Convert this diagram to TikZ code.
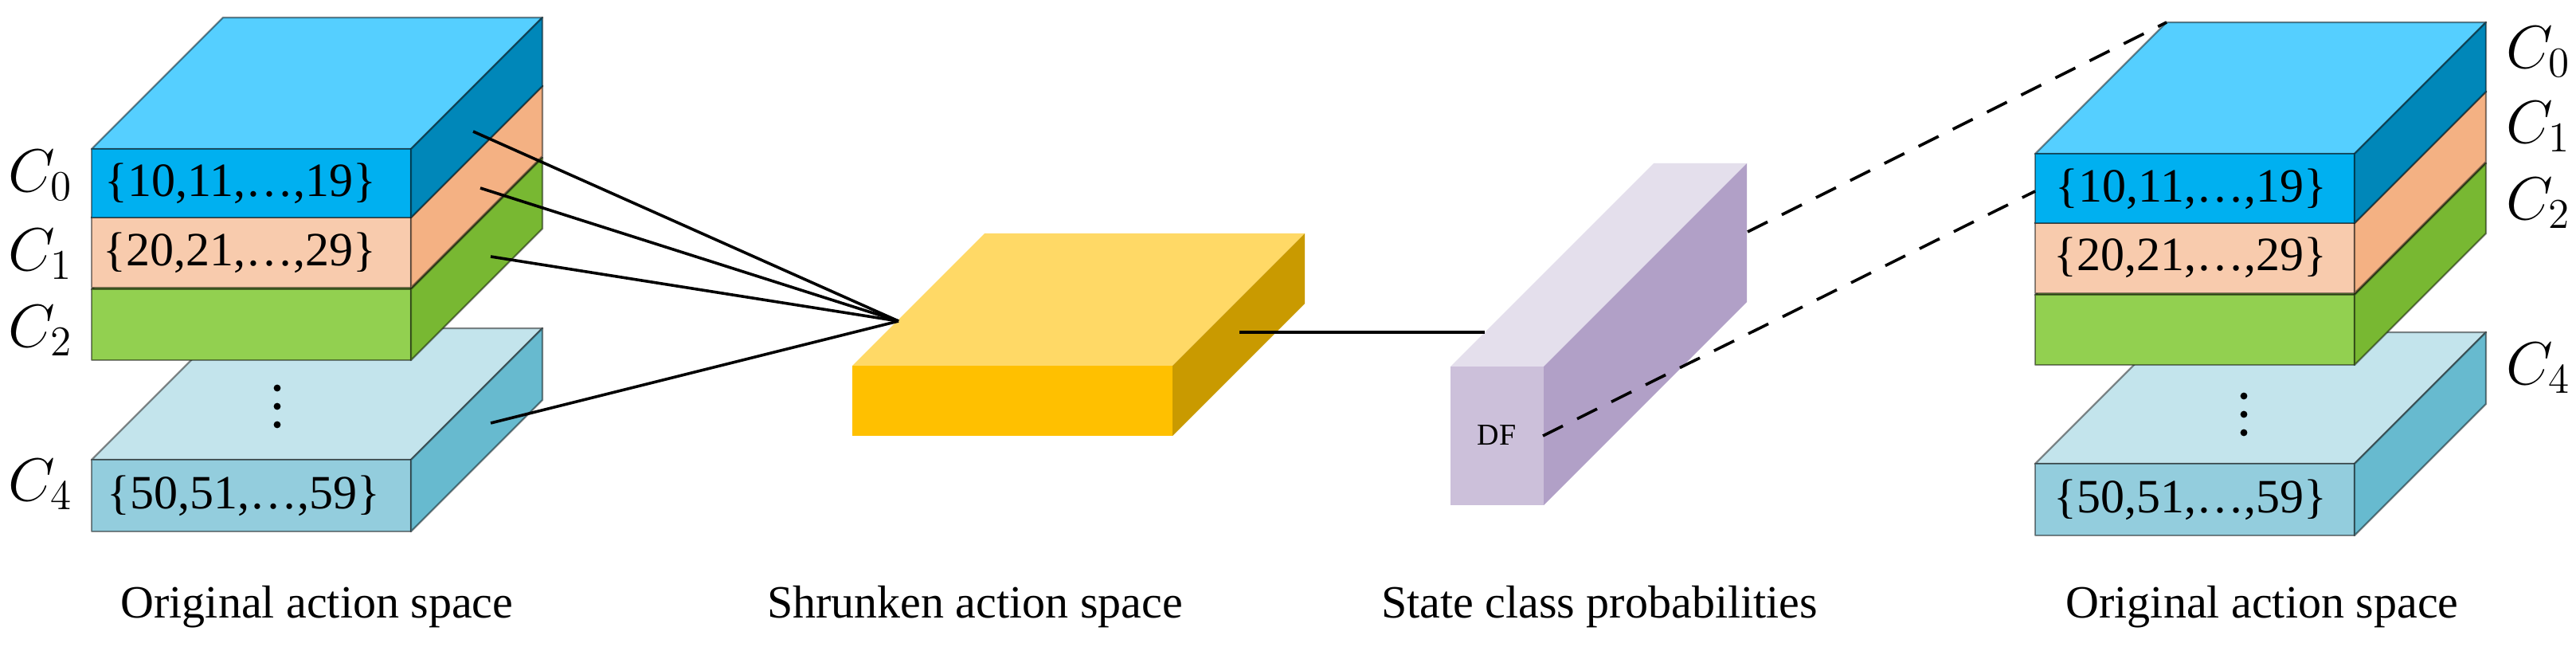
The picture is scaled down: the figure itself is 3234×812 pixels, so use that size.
\documentclass[tikz,border=0pt]{standalone}
\usepackage{fix-cm}
\usepackage{fontspec}
\setmainfont{Liberation Serif}
\definecolor{bluetop}{HTML}{55CFFF}
\definecolor{bluefront}{HTML}{00B0F0}
\definecolor{blueside}{HTML}{0087B9}
\definecolor{orfront}{HTML}{F8CBAD}
\definecolor{orside}{HTML}{F4B183}
\definecolor{grtop}{HTML}{92D050}
\definecolor{grfront}{HTML}{92D050}
\definecolor{grside}{HTML}{78B832}
\definecolor{lbtop}{HTML}{C3E4EC}
\definecolor{lbfront}{HTML}{93CDDD}
\definecolor{lbside}{HTML}{67BACF}
\definecolor{yetop}{HTML}{FFD966}
\definecolor{yefront}{HTML}{FFC000}
\definecolor{yeside}{HTML}{C99A00}
\definecolor{putop}{HTML}{E4DFEC}
\definecolor{pufront}{HTML}{CCC0DA}
\definecolor{puside}{HTML}{B1A0C7}
% #1 options, #2 x0, #3 x1, #4 top, #5 bottom, #6 depth, #7 top colour, #8 front colour, #9 side colour
\newcommand{\drawslab}[9][]{%
  \path[#1,fill=#7] (#2,#4) -- ({#2+#6},{#4-#6}) -- ({#3+#6},{#4-#6}) -- (#3,#4) -- cycle;
  \path[#1,fill=#8] (#2,#4) rectangle (#3,#5);
  \path[#1,fill=#9] (#3,#4) -- ({#3+#6},{#4-#6}) -- ({#3+#6},{#5-#6}) -- (#3,#5) -- cycle;
}
\tikzset{
  edged/.style={draw=black,draw opacity=0.45,line width=0.6pt,line join=round},
  plain/.style={},
  settext/.style={inner sep=0pt,font=\fontsize{15}{18}\selectfont},
  clabel/.style={inner sep=0pt,font=\fontsize{19}{22}\selectfont},
  caption/.style={inner sep=0pt,anchor=base,font=\fontsize{14.5}{17}\selectfont},
  link/.style={line width=0.9pt,black},
  dlink/.style={line width=0.9pt,black,dash pattern=on 7pt off 5pt},
}
\begin{document}
\begin{tikzpicture}[x=0.25pt,y=-0.25pt]
\useasboundingbox (0,0) rectangle (3234,812);
\fill[white] (0,0) rectangle (3234,812);

% ---------- left stack ----------
\drawslab[edged]{115}{516}{577}{667}{165}{lbtop}{lbfront}{lbside}
\drawslab[edged]{115}{516}{363}{452}{165}{grtop}{grfront}{grside}
\drawslab[edged]{115}{516}{273}{361}{165}{orfront}{orfront}{orside}
\drawslab[edged]{115}{516}{187}{273}{165}{bluetop}{bluefront}{blueside}
\foreach \yy in {487,510,533} \fill (348,\yy) circle[radius=1.1pt];

\node[settext] (ls0) at (302,230) {\{10,11,\ldots,19\}};
\node[settext] (ls1) at (301,317) {\{20,21,\ldots,29\}};
\node[settext] (ls4) at (306,622) {\{50,51,\ldots,59\}};

\node[clabel] (lc0) at (51,220) {$C_0$};
\node[clabel] (lc1) at (51,319) {$C_1$};
\node[clabel] (lc2) at (51,415) {$C_2$};
\node[clabel] (lc4) at (51,608) {$C_4$};

% ---------- shrunken action space ----------
\drawslab[plain]{1070}{1472}{459}{547}{166}{yetop}{yefront}{yeside}

% ---------- state class probabilities ----------
\drawslab[plain]{1821}{1938}{460}{634}{255}{putop}{pufront}{puside}
\node[inner sep=0pt,font=\fontsize{9.5}{11}\selectfont] (df) at (1879,546) {DF};

% ---------- right stack ----------
\drawslab[edged]{2555}{2956}{582}{672}{165}{lbtop}{lbfront}{lbside}
\drawslab[edged]{2555}{2956}{370}{458}{165}{grtop}{grfront}{grside}
\drawslab[edged]{2555}{2956}{280}{368}{165}{orfront}{orfront}{orside}
\drawslab[edged]{2555}{2956}{193}{280}{165}{bluetop}{bluefront}{blueside}
\foreach \yy in {497,520,543} \fill (2817,\yy) circle[radius=1.1pt];

\node[settext] (rs0) at (2751,237) {\{10,11,\ldots,19\}};
\node[settext] (rs1) at (2750,323) {\{20,21,\ldots,29\}};
\node[settext] (rs4) at (2750,627) {\{50,51,\ldots,59\}};

\node[clabel] (rc0l) at (3187,65) {$C_0$};
\node[clabel] (rc1l) at (3187,159) {$C_1$};
\node[clabel] (rc2l) at (3187,255) {$C_2$};
\node[clabel] (rc4l) at (3187,462) {$C_4$};

% ---------- connectors ----------
\coordinate (ytip) at (1128,403);
\coordinate (a0) at (594,165);
\coordinate (a1) at (603,236);
\coordinate (a2) at (616,322);
\coordinate (a4) at (616,531);
\draw[link] (a0) -- (ytip);
\draw[link] (a1) -- (ytip);
\draw[link] (a2) -- (ytip);
\draw[link] (a4) -- (ytip);

\coordinate (yside) at (1556,417);
\coordinate (ptop) at (1864,417);
\draw[link] (yside) -- (ptop);

\coordinate (pside) at (2194,291);
\coordinate (rtop) at (2720,28);
\coordinate (pdf) at (1937,547);
\coordinate (rfront) at (2555,240);
\draw[dlink] (pside) -- (rtop);
\draw[dlink] (pdf) -- (rfront);

% ---------- captions ----------
\node[caption] (cap1) at (398,775) {Original action space};
\node[caption] (cap2) at (1224,775) {Shrunken action space};
\node[caption] (cap3) at (2008,775) {State class probabilities};
\node[caption] (cap4) at (2840,775) {Original action space};
\end{tikzpicture}
\end{document}
